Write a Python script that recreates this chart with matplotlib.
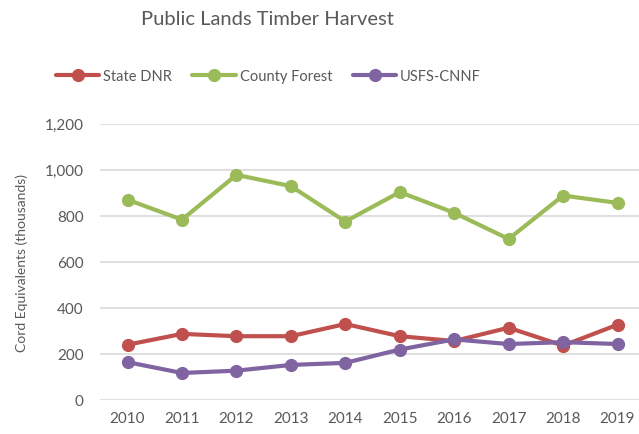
import matplotlib.pyplot as plt
from matplotlib.ticker import FuncFormatter

# data (thousands of cord equivalents)
years = ["2010", "2011", "2012", "2013", "2014", "2015", "2016", "2017", "2018", "2019"]
state_dnr = [239, 286, 276, 276, 329, 276, 255, 313, 235, 326]
county_forest = [870, 783, 978, 929, 775, 903, 813, 699, 888, 856]
usfs_cnnf = [163, 116, 126, 151, 160, 218, 262, 242, 250, 242]

series_names = ["State DNR", "County Forest", "USFS-CNNF"]
colors = ["#C0504D", "#9BBB59", "#8064A2"]
text_color = "#595959"

plt.rcParams["font.family"] = ["Lato", "DejaVu Sans"]

fig = plt.figure(figsize=(6.39, 4.35), dpi=100)
# the reference is cropped on the right, so the axes run past the figure edge
ax = fig.add_axes([0.157, 0.079, 0.852, 0.634])

x = range(len(years))
for values, name, color in zip([state_dnr, county_forest, usfs_cnnf], series_names, colors):
    ax.plot(x, values, color=color, linewidth=3, marker="o", markersize=8.5,
            label=name, solid_capstyle="round", zorder=3)

ax.set_xlim(-0.5, len(years) - 0.5)
ax.set_ylim(0, 1200)
ax.set_yticks(range(0, 1201, 200))
ax.yaxis.set_major_formatter(FuncFormatter(lambda v, p: f"{int(v):,}"))
ax.set_xticks(list(x))
ax.set_xticklabels(years)

ax.grid(axis="y", color="#D9D9D9", linewidth=1.2)
ax.set_axisbelow(True)
for side in ["top", "right", "left", "bottom"]:
    ax.spines[side].set_visible(False)
ax.tick_params(length=0, labelsize=11, colors=text_color, pad=8)
ax.tick_params(axis="y", pad=12)

ax.set_ylabel("Cord Equivalents (thousands)", fontsize=10, color=text_color, labelpad=12)

fig.text(0.418, 0.955, "Public Lands Timber Harvest", ha="center", va="center",
         fontsize=14.5, color=text_color)

fig.legend(loc="center", bbox_to_anchor=(0.42, 0.823), ncol=3, frameon=False,
           fontsize=10.5, labelcolor=text_color, handlelength=3.0, handletextpad=0.25,
           columnspacing=1.4)

plt.savefig("out.png", dpi=100)
plt.clf()
